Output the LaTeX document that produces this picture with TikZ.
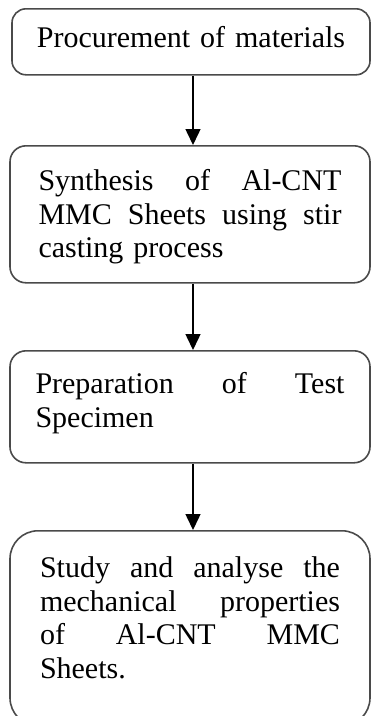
\documentclass[tikz,border=0pt]{standalone}
\usepackage{fontspec}
\setmainfont{Liberation Serif}
\usetikzlibrary{arrows.meta}
\definecolor{boxline}{HTML}{4A4A4A}
\newcommand\jline[1]{\leavevmode\hbox to\linewidth{#1}}
\tikzset{
  stepbox/.style={draw=boxline, line width=1.6pt, rounded corners=14pt, anchor=north,
    inner ysep=0pt, align=left, font=\fontsize{30}{33.5}\selectfont},
  flow/.style={draw=black, line width=1.5pt, -{Triangle[width=15pt,length=16pt]}}
}
\begin{document}
\begin{tikzpicture}[x=1pt,y=1pt]
\useasboundingbox (0,0) rectangle (371,-716);
\clip (0,0) rectangle (371,-716);
\node[stepbox, align=center, text width=310pt, inner xsep=24pt, text height=39pt, text depth=27pt] (b1) at (191,-8) {Procurement of materials};
\node[stepbox, text width=303pt, inner xsep=28.5pt, text height=45pt, text depth=92pt, rounded corners=16pt] (b2) at (190,-145)
  {\jline{Synthesis\hfill of\hfill Al-CNT}\\
   \jline{MMC\hfill Sheets\hfill using\hfill stir}\\
   casting process};
\node[stepbox, text width=309pt, inner xsep=25.5pt, text height=43pt, text depth=69pt, rounded corners=16pt] (b3) at (190,-350)
  {\jline{Preparation\hfill of\hfill Test}\\
   Specimen};
\node[stepbox, text width=300pt, inner xsep=30pt, text height=47pt, text depth=148pt, rounded corners=28pt] (b4) at (190,-530)
  {\jline{Study\hfill and\hfill analyse\hfill the}\\
   \jline{mechanical\hfill properties}\\
   \jline{of\hfill Al-CNT\hfill MMC}\\
   Sheets.};
\draw[flow] ([xshift=2pt]b1.south) -- ([xshift=3pt]b2.north);
\draw[flow] ([xshift=3pt]b2.south) -- ([xshift=3pt]b3.north);
\draw[flow] ([xshift=3pt]b3.south) -- ([xshift=3pt]b4.north);
\end{tikzpicture}
\end{document}
